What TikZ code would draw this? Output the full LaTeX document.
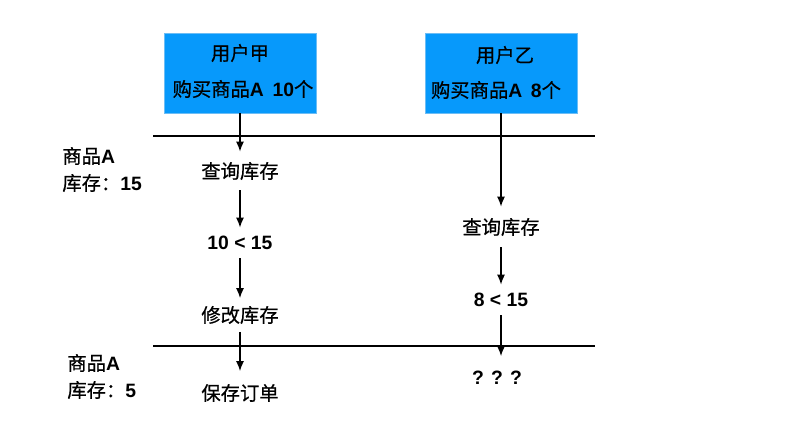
\documentclass[tikz,border=0pt]{standalone}
\usepackage{fontspec}
\setmainfont{Noto Sans CJK SC}[FakeBold=0.6]
\newfontfamily\latf{Liberation Sans}
\newcommand{\lt}[1]{{\latf\bfseries #1}}
\usetikzlibrary{arrows.meta}
\definecolor{boxblue}{HTML}{0799FB}
\definecolor{boxedge}{HTML}{6CBDF5}
\begin{document}
\begin{tikzpicture}[x=0.02cm,y=-0.02cm,
  userbox/.style={fill=boxblue,draw=boxedge,line width=0.4pt,minimum width=3.04cm,minimum height=1.6cm,inner sep=0pt},
  txt/.style={font=\fontsize{11pt}{13pt}\selectfont,inner sep=0pt,minimum height=0.68cm,anchor=center},
  lbl/.style={font=\fontsize{11pt}{13pt}\selectfont,inner sep=0pt,anchor=west},
  flow/.style={line width=0.8pt,-{Latex[length=2mm,width=1.6mm]}},
  sep/.style={line width=0.8pt}]
\useasboundingbox (0,0) rectangle (800,425);
\fill[white] (0,0) rectangle (800,425);
% user boxes
\node[userbox] (ua) at (240,73) {};
\node[txt] (uat) at (240,53) {用户甲};
\node[txt] (uab) at (243,89) {购买商品\lt{A}\ \ \lt{10}个};
\node[userbox] (ub) at (501,73) {};
\node[txt] (ubt) at (505,55) {用户乙};
\node[txt] (ubb) at (496,90) {购买商品\lt{A}\ \ \lt{8}个};
% separator lines
\coordinate (l1a) at (153,136);
\coordinate (l1b) at (595,136);
\coordinate (l2a) at (153,346);
\coordinate (l2b) at (595,346);
\draw[sep] (l1a) -- (l1b);
\draw[sep] (l2a) -- (l2b);
% left labels
\node[lbl] (s1) at (62,156) {商品\lt{A}};
\node[lbl] (s2) at (62,183) {库存：\lt{15}};
\node[lbl] (s3) at (67,363) {商品\lt{A}};
\node[lbl] (s4) at (67,390) {库存：\lt{5}};
% left flow
\node[txt,minimum height=0.76cm] (a1) at (240,171) {查询库存};
\node[txt,minimum height=0.6cm] (a2) at (240,243) {\lt{10 < 15}};
\node[txt,minimum height=0.66cm] (a3) at (240,315) {修改库存};
\node[txt,minimum height=0.86cm] (a4) at (240,393) {保存订单};
\draw[flow] (ua.south) -- (a1.north);
\draw[flow] (a1.south) -- (a2.north);
\draw[flow] (a2.south) -- (a3.north);
\draw[flow] (a3.south) -- (a4.north);
% right flow
\node[txt,minimum height=0.8cm] (b1) at (501,227) {查询库存};
\node[txt,minimum height=0.6cm] (b2) at (501,300) {\lt{8 < 15}};
\node[txt,minimum height=0.86cm] (b3) at (497,378) {\lt{? ? ?}};
\draw[flow] (ub.south) -- (b1.north);
\draw[flow] (b1.south) -- (b2.north);
\draw[flow] (b2.south) -- (b2.south |- b3.north);
\end{tikzpicture}
\end{document}
